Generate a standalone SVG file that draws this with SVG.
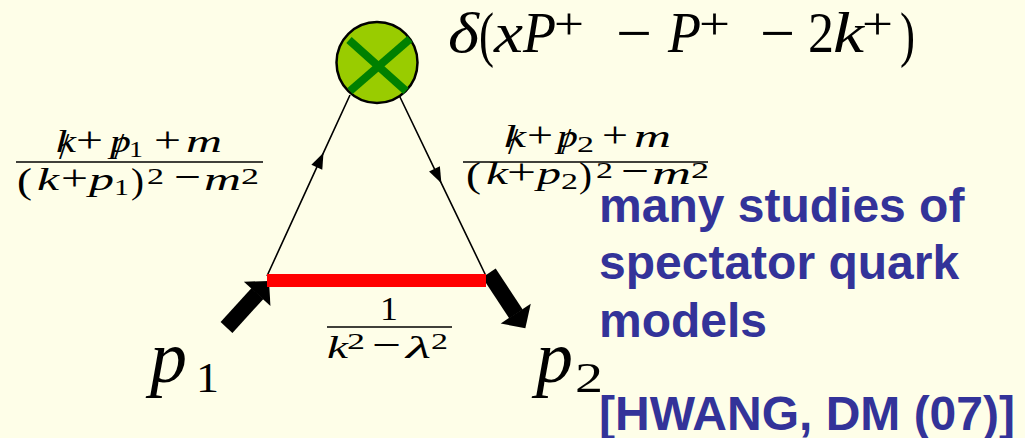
<svg xmlns="http://www.w3.org/2000/svg" width="1025" height="438" viewBox="0 0 1025 438">
<style>
.m{font-family:"Liberation Serif","Times New Roman",serif;fill:#000}
.i{font-style:italic}
.note{font-family:"Liberation Sans",Arial,sans-serif;font-weight:bold;font-size:48px;fill:#333399}
.fl{stroke:#000;stroke-width:1.6}
.thin{stroke:#000;stroke-width:1.6;fill:none}
.thick{stroke:#000;stroke-width:16;fill:none;stroke-linecap:butt}
.sl{font-family:"Liberation Serif","Times New Roman",serif;font-size:37px;fill:#000}
</style>
<defs>
<marker id="fa" markerUnits="userSpaceOnUse" viewBox="-17 -7 18 14" markerWidth="18" markerHeight="14" refX="0" refY="0" orient="auto" overflow="visible"><path d="M0,0 L-16,-6 L-16,6 z" fill="#000"/></marker>
<marker id="big" markerUnits="userSpaceOnUse" viewBox="-1 -19 20 38" markerWidth="20" markerHeight="38" refX="0" refY="0" orient="auto" overflow="visible"><path d="M-0.5,-18 L17,0 L-0.5,18 z" fill="#000"/></marker>
</defs>
<rect width="1025" height="438" fill="#fefee8"/>

<g id="connectors">
<path class="thin" d="M267,276 L323.5,152.7 L350,95" marker-mid="url(#fa)"/>
<path class="thin" d="M399,95 L441.4,183.3 L486,276" marker-mid="url(#fa)"/>
<line class="thick" x1="226.5" y1="327.5" x2="257.5" y2="293.5" marker-end="url(#big)"/>
<line class="thick" x1="489" y1="273" x2="516" y2="314" marker-end="url(#big)"/>
<rect x="267" y="274" width="219" height="13" fill="#ff0000"/>
</g>

<g id="vertex">
<circle cx="377" cy="62.5" r="40.5" fill="#99cc00" stroke="#000" stroke-width="2.5"/>
<line x1="349" y1="40" x2="406" y2="91" stroke="#008000" stroke-width="8"/>
<line x1="410" y1="39" x2="350" y2="91" stroke="#008000" stroke-width="8"/>
</g>

<g id="delta-label">
<text class="m i" font-size="56" x="448" y="52" textLength="31" lengthAdjust="spacingAndGlyphs">δ</text>
<text class="m" font-size="62" x="479" y="55" textLength="15" lengthAdjust="spacingAndGlyphs">(</text>
<text class="m i" font-size="56" x="494" y="52" textLength="29" lengthAdjust="spacingAndGlyphs">x</text>
<text class="m i" font-size="56" x="523" y="52" textLength="33" lengthAdjust="spacingAndGlyphs">P</text>
<text class="m" font-size="44" x="554" y="39" textLength="30" lengthAdjust="spacingAndGlyphs">+</text>
<text class="m" font-size="62" x="616" y="54" textLength="36" lengthAdjust="spacingAndGlyphs">−</text>
<text class="m i" font-size="56" x="668" y="52" textLength="33" lengthAdjust="spacingAndGlyphs">P</text>
<text class="m" font-size="44" x="699" y="39" textLength="31" lengthAdjust="spacingAndGlyphs">+</text>
<text class="m" font-size="62" x="760" y="54" textLength="35" lengthAdjust="spacingAndGlyphs">−</text>
<text class="m" font-size="56" x="808" y="52" textLength="26" lengthAdjust="spacingAndGlyphs">2</text>
<text class="m i" font-size="56" x="833" y="52" textLength="31" lengthAdjust="spacingAndGlyphs">k</text>
<text class="m" font-size="44" x="862" y="39" textLength="31" lengthAdjust="spacingAndGlyphs">+</text>
<text class="m" font-size="62" x="900" y="55" textLength="15" lengthAdjust="spacingAndGlyphs">)</text>
</g>

<g id="left-prop-label">
<text class="m i" font-size="31" x="56" y="152" textLength="20" lengthAdjust="spacingAndGlyphs">k</text>
<text class="sl" x="59" y="159">/</text>
<text class="m" font-size="36" x="76" y="152" textLength="27" lengthAdjust="spacingAndGlyphs">+</text>
<text class="m i" font-size="31" x="110" y="152" textLength="21" lengthAdjust="spacingAndGlyphs">p</text>
<text class="sl" x="114" y="159">/</text>
<text class="m" font-size="23" x="129" y="157" textLength="14" lengthAdjust="spacingAndGlyphs">1</text>
<text class="m" font-size="36" x="154" y="152" textLength="27" lengthAdjust="spacingAndGlyphs">+</text>
<text class="m i" font-size="31" x="186" y="152" textLength="36" lengthAdjust="spacingAndGlyphs">m</text>
<line class="fl" x1="16" y1="162" x2="263" y2="162"/>
<text class="m" font-size="36" x="17" y="193" textLength="15" lengthAdjust="spacingAndGlyphs">(</text>
<text class="m i" font-size="31" x="37" y="190" textLength="22" lengthAdjust="spacingAndGlyphs">k</text>
<text class="m" font-size="36" x="61" y="190" textLength="27" lengthAdjust="spacingAndGlyphs">+</text>
<text class="m i" font-size="31" x="89" y="190" textLength="25" lengthAdjust="spacingAndGlyphs">p</text>
<text class="m" font-size="23" x="114" y="195" textLength="15" lengthAdjust="spacingAndGlyphs">1</text>
<text class="m" font-size="36" x="131" y="193" textLength="13" lengthAdjust="spacingAndGlyphs">)</text>
<text class="m" font-size="23" x="147" y="184" textLength="17" lengthAdjust="spacingAndGlyphs">2</text>
<text class="m" font-size="40" x="174" y="190" textLength="27" lengthAdjust="spacingAndGlyphs">−</text>
<text class="m i" font-size="31" x="204" y="190" textLength="37" lengthAdjust="spacingAndGlyphs">m</text>
<text class="m" font-size="23" x="241" y="184" textLength="18" lengthAdjust="spacingAndGlyphs">2</text>
</g>

<g id="right-prop-label">
<text class="m i" font-size="31" x="504" y="147" textLength="22" lengthAdjust="spacingAndGlyphs">k</text>
<text class="sl" x="508" y="154">/</text>
<text class="m" font-size="36" x="527" y="147" textLength="26" lengthAdjust="spacingAndGlyphs">+</text>
<text class="m i" font-size="31" x="557" y="147" textLength="21" lengthAdjust="spacingAndGlyphs">p</text>
<text class="sl" x="561" y="154">/</text>
<text class="m" font-size="23" x="577" y="152" textLength="17" lengthAdjust="spacingAndGlyphs">2</text>
<text class="m" font-size="36" x="602" y="147" textLength="26" lengthAdjust="spacingAndGlyphs">+</text>
<text class="m i" font-size="31" x="634" y="147" textLength="37" lengthAdjust="spacingAndGlyphs">m</text>
<line class="fl" x1="463" y1="162" x2="708" y2="162"/>
<text class="m" font-size="36" x="466" y="187" textLength="15" lengthAdjust="spacingAndGlyphs">(</text>
<text class="m i" font-size="31" x="486" y="184" textLength="22" lengthAdjust="spacingAndGlyphs">k</text>
<text class="m" font-size="36" x="507" y="184" textLength="29" lengthAdjust="spacingAndGlyphs">+</text>
<text class="m i" font-size="31" x="537" y="184" textLength="24" lengthAdjust="spacingAndGlyphs">p</text>
<text class="m" font-size="23" x="561" y="189" textLength="17" lengthAdjust="spacingAndGlyphs">2</text>
<text class="m" font-size="36" x="579" y="187" textLength="13" lengthAdjust="spacingAndGlyphs">)</text>
<text class="m" font-size="23" x="596" y="178" textLength="17" lengthAdjust="spacingAndGlyphs">2</text>
<text class="m" font-size="40" x="621" y="184" textLength="28" lengthAdjust="spacingAndGlyphs">−</text>
<text class="m i" font-size="31" x="652" y="184" textLength="39" lengthAdjust="spacingAndGlyphs">m</text>
<text class="m" font-size="23" x="691" y="178" textLength="18" lengthAdjust="spacingAndGlyphs">2</text>
</g>

<g id="bottom-prop-label">
<text class="m" font-size="34" x="380" y="320" textLength="18" lengthAdjust="spacingAndGlyphs">1</text>
<line class="fl" x1="327" y1="327" x2="452" y2="327"/>
<text class="m i" font-size="32" x="327" y="358" textLength="21" lengthAdjust="spacingAndGlyphs">k</text>
<text class="m" font-size="23" x="347" y="349" textLength="18" lengthAdjust="spacingAndGlyphs">2</text>
<text class="m" font-size="40" x="372" y="358" textLength="29" lengthAdjust="spacingAndGlyphs">−</text>
<text class="m i" font-size="32" x="406" y="358" textLength="25" lengthAdjust="spacingAndGlyphs">λ</text>
<text class="m" font-size="23" x="431" y="349" textLength="17" lengthAdjust="spacingAndGlyphs">2</text>
</g>

<g id="p1">
<text class="m i" font-size="74" x="150" y="382">p</text>
<text class="m" font-size="42" x="196" y="392" textLength="23" lengthAdjust="spacingAndGlyphs">1</text>
</g>

<g id="p2">
<text class="m i" font-size="74" x="536" y="382">p</text>
<text class="m" font-size="42" x="575" y="392" textLength="28" lengthAdjust="spacingAndGlyphs">2</text>
</g>

<g id="note">
<text class="note" x="599" y="222">many studies of</text>
<text class="note" x="599" y="279">spectator quark</text>
<text class="note" x="599" y="337">models</text>
<text class="note" x="599" y="430">[HWANG, DM (07)]</text>
</g>
</svg>
